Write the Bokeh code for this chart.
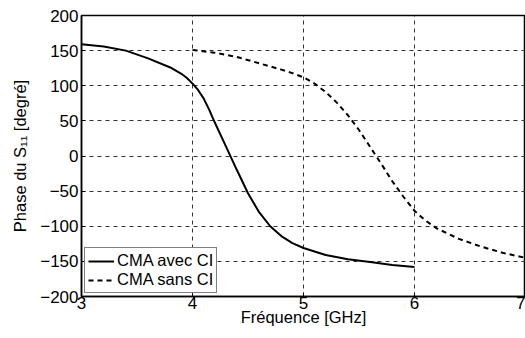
from bokeh.plotting import figure
from bokeh.models import Range1d, Legend, LegendItem, FixedTicker
from bokeh.embed import file_html
from bokeh.resources import INLINE

# Data
freq_avec = [3.0, 3.2, 3.4, 3.6, 3.8, 3.9, 3.95, 4.0, 4.05, 4.1, 4.15, 4.2, 4.3, 4.4, 4.5, 4.6, 4.7, 4.8, 4.9, 5.0, 5.2, 5.4, 5.6, 5.8, 6.0]
phase_avec = [159, 156, 150, 139, 126, 117, 111, 103, 94, 82, 66, 48, 14, -20, -53, -80, -100, -114, -124, -131, -141, -147, -151, -155, -158]

freq_sans = [4.0, 4.2, 4.4, 4.6, 4.8, 4.9, 5.0, 5.1, 5.2, 5.3, 5.4, 5.5, 5.6, 5.7, 5.8, 5.9, 6.0, 6.1, 6.2, 6.4, 6.6, 6.8, 7.0]
phase_sans = [151, 147, 141, 132, 123, 118, 112, 103, 91, 76, 58, 37, 13, -11, -36, -58, -78, -92, -103, -118, -129, -138, -145]

x_ticks = [3, 4, 5, 6, 7]
y_ticks = [-200, -150, -100, -50, 0, 50, 100, 150, 200]
y_tick_labels = {v: (str(v).replace("-", "\u2212")) for v in y_ticks}

FONT = "Liberation Sans"

p = figure(frame_width=444, frame_height=281, output_backend="svg", toolbar_location=None,
           x_range=Range1d(3, 7), y_range=Range1d(-200, 200),
           min_border_left=81, min_border_right=0, min_border_top=15, min_border_bottom=36)
p.background_fill_color = "white"
p.border_fill_color = "white"
p.outline_line_color = "black"
p.outline_line_width = 1.5

p.xaxis.ticker = FixedTicker(ticks=x_ticks)
p.yaxis.ticker = FixedTicker(ticks=y_ticks)
p.yaxis.major_label_overrides = y_tick_labels

for ax in (p.xaxis[0], p.yaxis[0]):
    ax.axis_line_color = "black"
    ax.axis_line_width = 1.5
    ax.major_tick_in = 4
    ax.major_tick_out = 0
    ax.minor_tick_line_color = None
    ax.major_tick_line_color = "black"
    ax.major_label_text_font = FONT
    ax.major_label_text_font_size = "17px"
    ax.major_label_text_color = "black"
    ax.axis_label_text_font = FONT
    ax.axis_label_text_font_size = "16.5px"
    ax.axis_label_text_font_style = "normal"
    ax.axis_label_text_color = "black"

p.xaxis.axis_label = "Fréquence [GHz]"
p.xaxis.major_label_standoff = 0
p.xaxis.axis_label_standoff = -4
p.yaxis.axis_label = "Phase du S\u2081\u2081 [degré]"
p.yaxis.major_label_standoff = 3
p.yaxis.axis_label_standoff = 8

p.grid.grid_line_color = "#333333"
p.grid.grid_line_dash = "4 4"
p.grid.grid_line_width = 1

r1 = p.line(freq_avec, phase_avec, line_color="black", line_width=2)
r2 = p.line(freq_sans, phase_sans, line_color="black", line_width=2, line_dash="5 4")

legend = Legend(items=[LegendItem(label="CMA avec CI", renderers=[r1]),
                       LegendItem(label="CMA sans CI", renderers=[r2])],
                location="bottom_left")
legend.margin = 3
legend.padding = 3
legend.spacing = 0
legend.glyph_width = 26
legend.glyph_height = 18
legend.label_height = 18
legend.label_standoff = 3
legend.label_text_font = FONT
legend.label_text_font_size = "16.5px"
legend.label_text_color = "black"
legend.border_line_color = "black"
legend.border_line_width = 1
legend.background_fill_color = "white"
legend.background_fill_alpha = 1
p.add_layout(legend, "center")

open("out.html", "w").write(file_html(p, INLINE))
